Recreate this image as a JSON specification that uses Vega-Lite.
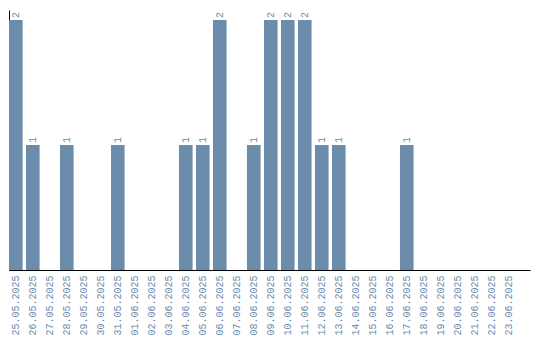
{
  "$schema": "https://vega.github.io/schema/vega-lite/v6.json",
  "autosize": "none",
  "width": 521,
  "height": 260,
  "padding": {"left": 9, "top": 10, "right": 10, "bottom": 70},
  "config": {"view": {"stroke": null}, "font": "Liberation Mono"},
  "data": {"values": [
    {"d": "25.05.2025", "v": 2}, {"d": "26.05.2025", "v": 1}, {"d": "27.05.2025", "v": 0},
    {"d": "28.05.2025", "v": 1}, {"d": "29.05.2025", "v": 0}, {"d": "30.05.2025", "v": 0},
    {"d": "31.05.2025", "v": 1}, {"d": "01.06.2025", "v": 0}, {"d": "02.06.2025", "v": 0},
    {"d": "03.06.2025", "v": 0}, {"d": "04.06.2025", "v": 1}, {"d": "05.06.2025", "v": 1},
    {"d": "06.06.2025", "v": 2}, {"d": "07.06.2025", "v": 0}, {"d": "08.06.2025", "v": 1},
    {"d": "09.06.2025", "v": 2}, {"d": "10.06.2025", "v": 2}, {"d": "11.06.2025", "v": 2},
    {"d": "12.06.2025", "v": 1}, {"d": "13.06.2025", "v": 1}, {"d": "14.06.2025", "v": 0},
    {"d": "15.06.2025", "v": 0}, {"d": "16.06.2025", "v": 0}, {"d": "17.06.2025", "v": 1},
    {"d": "18.06.2025", "v": 0}, {"d": "19.06.2025", "v": 0}, {"d": "20.06.2025", "v": 0},
    {"d": "21.06.2025", "v": 0}, {"d": "22.06.2025", "v": 0}, {"d": "23.06.2025", "v": 0}
  ]},
  "encoding": {
    "x": {"field": "d", "type": "nominal", "sort": null,
      "scale": {"paddingInner": 0.2, "paddingOuter": 0.425, "align": 0},
      "axis": {"title": null, "labelAngle": -90, "ticks": false, "domainColor": "#000", "labelColor": "#6b8cab", "labelFontSize": 10, "labelPadding": 5, "labelFont": "Liberation Mono"}},
    "y": {"field": "v", "type": "quantitative",
      "scale": {"domain": [0, 2.08], "nice": false},
      "axis": {"title": null, "labels": false, "ticks": false, "grid": false, "domainColor": "#000"}}
  },
  "layer": [
    {"mark": {"type": "bar", "color": "#6b8cab"}},
    {"transform": [{"filter": "datum.v > 0"}],
     "mark": {"type": "text", "angle": 270, "align": "left", "baseline": "middle", "dx": 2, "fontSize": 10, "color": "#6b8cab", "font": "Liberation Mono"},
     "encoding": {"text": {"field": "v", "type": "quantitative"}}}
  ]
}
